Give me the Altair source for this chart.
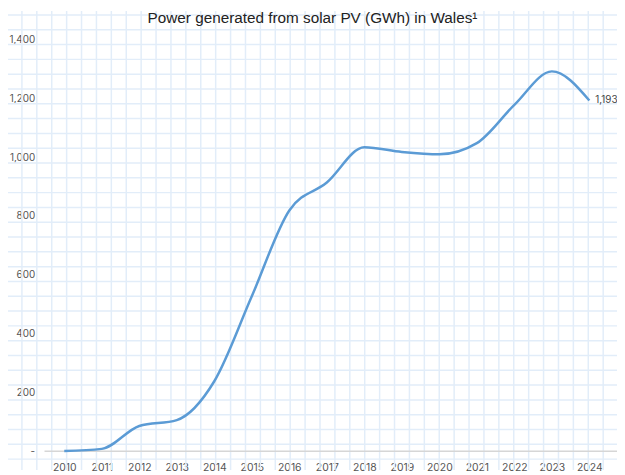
import altair as alt
import pandas as pd

# ---- data ----
years = list(range(2010, 2025))
gwh = [1, 8, 86, 106, 238, 527, 819, 914, 1034, 1018, 1010, 1048, 1178, 1292, 1193]
y_ticks = [0, 200, 400, 600, 800, 1000, 1200, 1400]
baseline_val = [0]
# background graph-paper grid (grid-unit indices)
grid_cols = list(range(1, 41))
grid_rows = list(range(0, 31))

W, H = 617, 465
PX_PER_YEAR = 38.0
PPU = 417.0 / 1400.0          # pixels per GWh
ZERO_Y = 446.0                # pixel row of 0 GWh
COL_STEP, ROW_STEP = 15.1, 15.0

df = pd.DataFrame({"year": years, "gwh": gwh})
cols = pd.DataFrame({"c": grid_cols})
rows = pd.DataFrame({"r": grid_rows})
base0 = pd.DataFrame({"zero": baseline_val})

grid_color = "#e2edf9"
vgrid = alt.Chart(cols).mark_rule(color=grid_color, strokeWidth=1.5).encode(
    x=alt.X("c:Q", axis=None,
            scale=alt.Scale(domain=[1 / COL_STEP, 1 / COL_STEP + W / COL_STEP], nice=False, zero=False))
)
hgrid = alt.Chart(rows).mark_rule(color=grid_color, strokeWidth=1.5).encode(
    y=alt.Y("r:Q", axis=None,
            scale=alt.Scale(domain=[-4 / ROW_STEP, -4 / ROW_STEP + H / ROW_STEP],
                            reverse=True, nice=False, zero=False))
)

xs = alt.Scale(domain=[2008.5, 2008.5 + W / PX_PER_YEAR], nice=False, zero=False)
ys = alt.Scale(domain=[-(H - ZERO_Y) / PPU, ZERO_Y / PPU], nice=False, zero=False)

label_font = "Inter"
xax = alt.Axis(orient="bottom", values=years, format="d", grid=False, ticks=False,
               domain=False, offset=ZERO_Y - H, labelPadding=17, labelBaseline="middle",
               labelFont=label_font, labelFontSize=10.5, labelColor="#555", labelAngle=0,
               labelFlush=False, labelOverlap=False, title=None)
yax = alt.Axis(orient="left", values=y_ticks,
               labelExpr="datum.value == 0 ? '-' : format(datum.value, ',')",
               grid=False, ticks=False, domain=False, offset=-27, labelPadding=0,
               labelFont=label_font, labelFontSize=10, labelColor="#555",
               labelFlush=False, labelOverlap=False, title=None)

rule = alt.Chart(base0).mark_rule(color="#d6d6d6", strokeWidth=1.5).encode(
    y=alt.Y("zero:Q", scale=ys, axis=yax),
    x=alt.value(37),
    x2=alt.value(W),
)

line = alt.Chart(df).mark_line(color="#5b9bd5", strokeWidth=2.5, interpolate="monotone").encode(
    x=alt.X("year:Q", scale=xs, axis=xax),
    y=alt.Y("gwh:Q", scale=ys, axis=yax),
)

end_label = alt.Chart(df).mark_text(
    align="left", baseline="middle", dx=6, font=label_font, fontSize=10, color="#444"
).encode(
    x=alt.X("year:Q", scale=xs, axis=xax),
    y=alt.Y("gwh:Q", scale=ys, axis=yax),
    text=alt.Text("gwh:Q", format=","),
).transform_filter(alt.datum.year == years[-1])

main = alt.layer(rule, line, end_label)

chart = alt.layer(vgrid, hgrid, main).resolve_scale(
    x="independent", y="independent"
).properties(
    width=W,
    height=H,
    padding=0,
    autosize=alt.AutoSizeParams(type="none"),
    title=alt.TitleParams(
        text="Power generated from solar PV (GWh) in Wales¹",
        font="Liberation Sans", fontSize=15.5, fontWeight="normal", color="#222",
        anchor="middle", frame="group", baseline="alphabetic", offset=-28,
    ),
).configure_view(stroke=None)

chart.save("out.html", embed_options={"renderer": "svg", "actions": False})
